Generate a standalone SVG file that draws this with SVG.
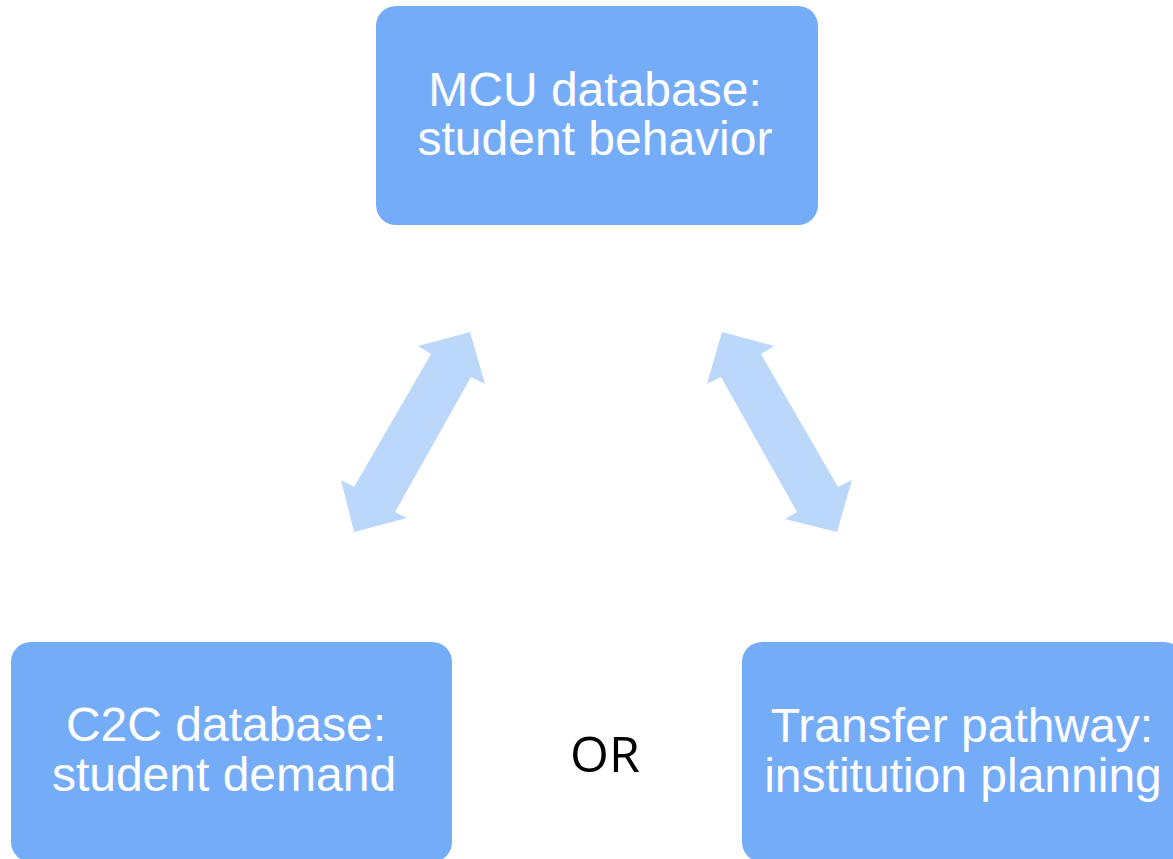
<svg xmlns="http://www.w3.org/2000/svg" width="1173" height="859" viewBox="0 0 1173 859">
<style>
.box{fill:#74ACF8;}
.lbl{font-family:"Liberation Sans",Arial,sans-serif;font-size:48px;fill:#ffffff;text-anchor:middle;}
.arrow{fill:#BBD8FB;}
.or{font-family:"Open Sans","Noto Sans",sans-serif;font-size:50px;fill:#000000;text-anchor:middle;}
</style>
<rect width="1173" height="859" fill="#ffffff"/>
<g id="connectors">
<polygon class="arrow" points="470,332 485,384 471,377 395,512 407,518 354,532 341,480 354,487 431,354 418,346"/>
<polygon class="arrow" points="722,332 774,346 761,354 838,487 852,480 837,532 785,519 797,512 721,377 707,384"/>
</g>
<g id="node-mcu">
<rect class="box" x="376" y="6" width="442" height="219" rx="20"/>
<text class="lbl" x="595" y="106">MCU database:</text>
<text class="lbl" x="595" y="155">student behavior</text>
</g>
<g id="node-c2c">
<rect class="box" x="11" y="642" width="441" height="220" rx="20"/>
<text class="lbl" x="226" y="741">C2C database:</text>
<text class="lbl" x="224" y="791">student demand</text>
</g>
<g id="node-transfer">
<rect class="box" x="742" y="642" width="442" height="220" rx="20"/>
<text class="lbl" x="962" y="742">Transfer pathway:</text>
<text class="lbl" x="963" y="792">institution planning</text>
</g>
<g id="or-label">
<text class="or" x="605" y="772">OR</text>
</g>
</svg>
